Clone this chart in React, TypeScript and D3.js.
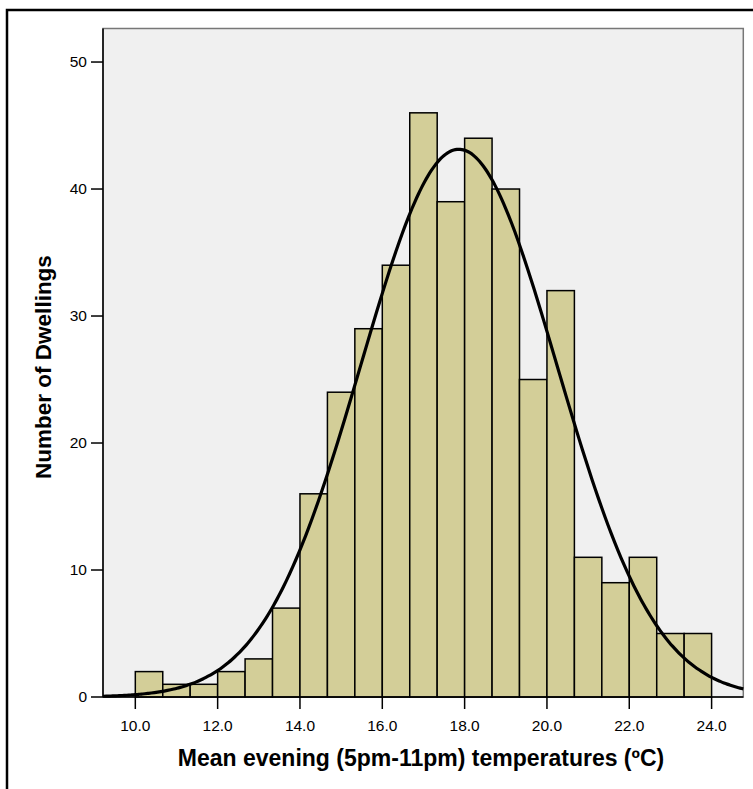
import React from "react";
import * as d3 from "d3";

const binStarts = [10, 10.667, 11.333, 12, 12.667, 13.333, 14, 14.667, 15.333, 16, 16.667, 17.333, 18, 18.667, 19.333, 20, 20.667, 21.333, 22, 22.667, 23.333];
const counts = [2, 1, 1, 2, 3, 7, 16, 24, 29, 34, 46, 39, 44, 40, 25, 32, 11, 9, 11, 5, 5];
const binWidth = 2 / 3;
const xTicks = [10, 12, 14, 16, 18, 20, 22, 24];
const yTicks = [0, 10, 20, 30, 40, 50];
const fitMean = 17.86;
const fitSd = 2.38;
const xTitle = "Mean evening (5pm-11pm) temperatures (ºC)";
const yTitle = "Number of Dwellings";

export default function App() {
  const W = 753, H = 789;
  const left = 103, right = 743.3, top = 28.5, bottom = 697;
  const x = d3.scaleLinear().domain([9.215, 24.77]).range([left, right]);
  const y = d3.scaleLinear().domain([0, 52.64]).range([bottom, top]);
  const n = d3.sum(counts);
  const normal = (v: number) =>
    (n * binWidth) / (fitSd * Math.sqrt(2 * Math.PI)) * Math.exp(-0.5 * ((v - fitMean) / fitSd) ** 2);
  const xs = d3.range(200).map((i) => 9.215 + (i / 199) * (24.77 - 9.215));
  const line = d3.line<number>().x((v) => x(v)).y((v) => y(normal(v))).curve(d3.curveBasis);
  const font = "'Liberation Sans', Arial, sans-serif";

  return (
    <svg width={W} height={H} style={{ position: "absolute", left: 0, top: 0, background: "#fff" }}>
      <rect x={7} y={10} width={800} height={900} fill="#fff" stroke="#000" strokeWidth={2.5} />
      <rect x={left} y={top} width={right - left} height={bottom - top} fill="#f0f0f0" stroke="#777" strokeWidth={1.5} />
      {counts.map((c, i) => (
        <rect
          key={i}
          x={x(binStarts[i])}
          y={y(c)}
          width={x(binStarts[i] + binWidth) - x(binStarts[i])}
          height={y(0) - y(c)}
          fill="#d3ce98"
          stroke="#000"
          strokeWidth={1.5}
        />
      ))}
      <path d={line(xs) || ""} fill="none" stroke="#000" strokeWidth={3.2} />
      <line x1={left} x2={left} y1={top} y2={bottom} stroke="#000" strokeWidth={1.5} />
      <line x1={left} x2={right} y1={bottom} y2={bottom} stroke="#000" strokeWidth={1.5} />
      {yTicks.map((t) => (
        <g key={t}>
          <line x1={91} x2={left} y1={y(t)} y2={y(t)} stroke="#000" strokeWidth={1.5} />
          <text x={87} y={y(t)} dy="0.35em" textAnchor="end" fontFamily={font} fontSize={15.5}>
            {t}
          </text>
        </g>
      ))}
      {xTicks.map((t) => (
        <g key={t}>
          <line x1={x(t)} x2={x(t)} y1={bottom} y2={709} stroke="#000" strokeWidth={1.5} />
          <text x={x(t)} y={731} textAnchor="middle" fontFamily={font} fontSize={15.5}>
            {t.toFixed(1)}
          </text>
        </g>
      ))}
      <text x={421} y={766} textAnchor="middle" fontFamily={font} fontSize={23} fontWeight="bold">
        {xTitle}
      </text>
      <text
        transform={`translate(51,367) rotate(-90)`}
        textAnchor="middle"
        fontFamily={font}
        fontSize={22.5}
        fontWeight="bold"
      >
        {yTitle}
      </text>
    </svg>
  );
}
